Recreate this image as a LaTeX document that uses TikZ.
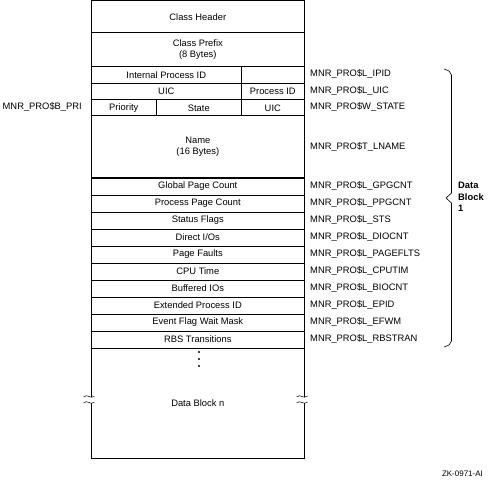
\documentclass[tikz,border=0pt]{standalone}
\usepackage{fontspec}
\setmainfont{Liberation Sans}
\tikzset{
  cell/.style={draw, line width=0.6bp, anchor=north west, inner sep=0pt,
    align=center, font=\fontsize{9.4}{11}\selectfont},
  fieldlbl/.style={anchor=west, inner sep=0pt, font=\fontsize{9.4}{11}\selectfont},
}
\begin{document}
\begin{tikzpicture}[x=1bp, y=-1bp]
    \useasboundingbox (0,0) rectangle (492,480);
    % header part
    \node[cell, minimum width=213bp, minimum height=32bp] (hdr) at (91,0.5) {Class Header};
    \node[cell, minimum width=213bp, minimum height=34bp] (prefix) at (91,32.5) {Class Prefix\\(8 Bytes)};
    \node[cell, minimum width=150bp, minimum height=16.5bp] (ipid) at (91,66.5) {Internal Process ID};
    \node[cell, minimum width=63bp, minimum height=16.5bp] (ipidx) at (241,66.5) {};
    \node[cell, minimum width=150bp, minimum height=16.5bp] (uic) at (91,83) {UIC};
    \node[cell, minimum width=63bp, minimum height=16.5bp] (pid) at (241,83) {Process ID};
    \node[cell, minimum width=65bp, minimum height=16bp] (pri) at (91,99.5) {Priority};
    \node[cell, minimum width=85bp, minimum height=16bp] (state) at (156,99.5) {State};
    \node[cell, minimum width=63bp, minimum height=16bp] (uic2) at (241,99.5) {UIC};
    \node[cell, minimum width=213bp, minimum height=62bp] (name) at (91,115.5) {Name\\(16 Bytes)};
    % field names
    \node[fieldlbl] (l-ipid) at (310,74) {MNR\_PRO\$L\_IPID};
    \node[fieldlbl] (l-uic) at (310,90.5) {MNR\_PRO\$L\_UIC};
    \node[fieldlbl] (l-state) at (310,107) {MNR\_PRO\$W\_STATE};
    \node[fieldlbl, anchor=east] (l-pri) at (82,107) {MNR\_PRO\$B\_PRI};
    \node[fieldlbl] (l-name) at (310,146.5) {MNR\_PRO\$T\_LNAME};
    % counters, one row each
    \foreach \txt/\lbl [count=\i] in {Global Page Count/GPGCNT, Process Page Count/PPGCNT,
        Status Flags/STS, {Direct I/Os}/DIOCNT, Page Faults/PAGEFLTS, CPU Time/CPUTIM,
        Buffered IOs/BIOCNT, Extended Process ID/EPID, Event Flag Wait Mask/EFWM,
        RBS Transitions/RBSTRAN} {
      \node[cell, minimum width=213bp, minimum height=17bp] (row\i) at (91,{177.5+17*(\i-1)}) {\txt};
      \node[fieldlbl] (l-row\i) at (310,{186+17*(\i-1)}) {MNR\_PRO\$L\_\lbl};
    }
    \node[cell, minimum width=213bp, minimum height=110bp] (blkn) at (91,347.5) {Data Block n};
    \foreach \y in {352,359,366} \fill (199,\y) circle (1.1);
    % break marks
    \foreach \x in {91.5,304.5} {
      \fill[white] (\x-5,396.5) rectangle (\x+5,402.5);
      \draw[line width=0.5bp] (\x-8,397) .. controls (\x-4,393) and (\x-1,400) .. (\x+3,396);
      \draw[line width=0.5bp] (\x-8,403) .. controls (\x-4,399) and (\x-1,406) .. (\x+3,402);
    }
    % brace
    \draw[line width=0.6bp] (444,69) -- (449,71) -- (451.5,75) -- (451.5,193) -- (446,198)
      -- (451.5,203) -- (451.5,341) -- (449,345) -- (444,347);
    \node[fieldlbl, font=\fontsize{9.4}{11.5}\selectfont\bfseries, align=left] (db1) at (458,197) {Data\\Block\\1};
    \node[fieldlbl, anchor=east, font=\fontsize{8}{9}\selectfont] (zk) at (483,474) {ZK-0971-AI};
\end{tikzpicture}
\end{document}
